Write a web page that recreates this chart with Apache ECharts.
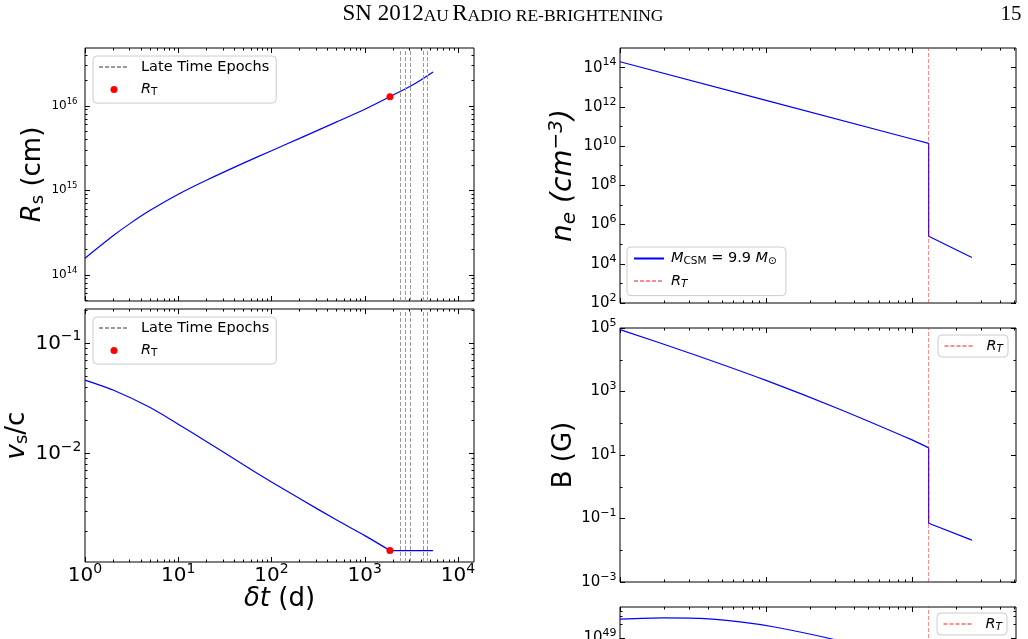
<!DOCTYPE html>
<html><head><meta charset="utf-8">
<script src="https://cdn.jsdelivr.net/npm/echarts@6/dist/echarts.min.js"></script>
<style>html,body{margin:0;padding:0;background:#fff}#c{width:1028px;height:639px}</style>
</head><body><div id="c"></div>
<script>
// ---------------- data ----------------
const tDays   = [1, 2, 3, 5, 10, 20, 50, 100, 200, 500, 1000, 1860, 3000, 4000, 5400];
const rsCm    = [1.574e14, 2.897e14, 4.009e14, 5.794e14, 8.974e14, 1.315e15, 2.099e15, 2.944e15, 4.121e15, 6.457e15, 9.12e15, 1.285e16, 1.685e16, 2.03e16, 2.515e16];
const tVs     = [1, 2, 5, 10, 20, 50, 100, 200, 500, 1000, 1860];
const vsOverC = [0.04645, 0.03776, 0.02618, 0.01849, 0.01291, 0.00794, 0.005534, 0.003917, 0.0025, 0.001807, 0.001324];
const tVsLate = [1860, 5400];
const vsLate  = [0.001324, 0.001324];
const lateEpochs = [2420, 2740, 3040, 4230, 4670];
const tTrans = 1860, rsTrans = 1.285e16, vsTrans = 0.001324;

const rNe      = [1e14, 1e15, 1e16, 1.3e16, 1.3e16, 2.57e16];
const neCm3    = [2.0e14, 2.14e12, 2.29e10, 1.365e10, 2.51e5, 2.09e4];
const rB       = [1e14, 3.16e14, 1e15, 3.16e15, 1e16, 1.3e16];
const bGauss   = [8.91e4, 1.496e4, 2.239e3, 281.8, 29.85, 16.75];
const rBLate   = [1.3e16, 1.3e16, 2.57e16];
const bLate    = [16.75, 0.0708, 0.0209];
const rEnergy  = [1e14, 1.98e14, 3.53e14, 6.64e14, 1.12e15, 2.74e15, 3.98e15];
const energy   = [2.63e49, 2.82e49, 2.75e49, 2.29e49, 1.78e49, 9.77e48, 7.08e48];
const rTransCm = 1.3e16;

// ---------------- helpers ----------------
const FONT = 'DejaVu Sans';
const zip = (a, b) => a.map((v, i) => [v, b[i]]);
const p10 = e => Number('1e' + e);
function majors(e0, e1, step) { const o = []; for (let e = e0; e <= e1; e += (step || 1)) o.push(p10(e)); return o; }
function minors(minV, maxV) {
  const o = []; const a = Math.floor(Math.log10(minV)), b = Math.ceil(Math.log10(maxV));
  for (let e = a; e <= b; e++) for (let k = 2; k <= 9; k++) { const v = k * p10(e); if (v > minV && v < maxV) o.push(v); }
  return o;
}
const supStr = e => (e < 0 ? '\u2212' : '') + Math.abs(e);
function supFmt(v) { const e = Math.round(Math.log10(v)); return '{b|10}{s|' + supStr(e) + '}'; }
function lab(base, sup, pad, margin) {
  return { show: true, margin, color: '#000', fontFamily: FONT, formatter: supFmt,
    rich: { b: { fontSize: base, fontFamily: FONT, color: '#000' },
            s: { fontSize: sup, fontFamily: FONT, color: '#000', padding: [0, 0, pad, 0] } } };
}

const xAxes = [], yAxes = [];
function addAxes(dim, g, min, max, majorVals, minorVals, labelCfg, nameCfg) {
  const arr = dim === 'x' ? xAxes : yAxes;
  const sides = dim === 'x' ? ['bottom', 'top'] : ['left', 'right'];
  sides.forEach((pos, si) => {
    [[majorVals, 5], [minorVals, 2.5]].forEach(([vals, len], mi) => {
      const first = si === 0 && mi === 0;
      const ax = {
        gridIndex: g, type: 'log', logBase: 10, min, max, position: pos,
        axisLine: { show: false },
        axisTick: { show: true, inside: true, length: len, customValues: vals, lineStyle: { color: '#000', width: 1 } },
        axisLabel: (first && labelCfg) ? Object.assign({ customValues: majorVals }, labelCfg) : { show: false },
        splitLine: { show: false }, minorTick: { show: false }, minorSplitLine: { show: false },
        axisPointer: { show: false }
      };
      if (first && nameCfg) Object.assign(ax, nameCfg);
      arr.push(ax);
    });
  });
}

// grid geometry
const grids = [
  { left: 85, top: 48, width: 389, height: 253 },
  { left: 85, top: 309, width: 389, height: 253 },
  { left: 620, top: 48, width: 396, height: 255 },
  { left: 620, top: 328, width: 396, height: 254 },
  { left: 620, top: 607, width: 396, height: 211 }
].map(g => Object.assign({ show: true, borderColor: '#000', borderWidth: 1, backgroundColor: 'transparent',
  containLabel: false, outerBoundsMode: 'none' }, g));

const tMin = 1, tMax = Math.pow(10, 4.171);
const rMin = 1e14, rMax = Math.pow(10, 16.712);
const xMajT = majors(0, 4), xMinT = minors(tMin, tMax);
const xMajR = majors(14, 16), xMinR = minors(rMin, rMax);

// grid 0: Rs
addAxes('x', 0, tMin, tMax, xMajT, xMinT, null);
const y0min = Math.pow(10, 13.69), y0max = Math.pow(10, 16.685);
addAxes('y', 0, y0min, y0max, majors(14, 16), minors(y0min, y0max), lab(12, 8.5, 9, 7.5), {
  name: '{i|R}{sub|s} (cm)', nameLocation: 'middle', nameRotate: 90, nameGap: 35,
  nameTextStyle: { fontSize: 26, fontFamily: FONT, color: '#000',
    rich: { i: { fontStyle: 'italic', fontSize: 26, fontFamily: FONT, color: '#000' },
            sub: { fontSize: 18, fontFamily: FONT, color: '#000', padding: [10, 0, 0, 0] } } }
});
// grid 1: vs/c
addAxes('x', 1, tMin, tMax, xMajT, xMinT, lab(20, 14, 13, 0), {
  name: '{i|\u03b4t} (d)', nameLocation: 'middle', nameGap: 22,
  nameTextStyle: { fontSize: 26, fontFamily: FONT, color: '#000',
    rich: { i: { fontStyle: 'italic', fontSize: 26, fontFamily: FONT, color: '#000' } } }
});
const y1min = Math.pow(10, -2.982), y1max = Math.pow(10, -0.689);
addAxes('y', 1, y1min, y1max, majors(-2, -1), minors(y1min, y1max), lab(20, 14, 13, 3.5), {
  name: '{i|v}{sub|s}/c', nameLocation: 'middle', nameRotate: 90, nameGap: 43,
  nameTextStyle: { fontSize: 26, fontFamily: FONT, color: '#000',
    rich: { i: { fontStyle: 'italic', fontSize: 26, fontFamily: FONT, color: '#000' },
            sub: { fontSize: 18, fontFamily: FONT, color: '#000', padding: [10, 0, 0, 0] } } }
});
// grid 2: ne
addAxes('x', 2, rMin, rMax, xMajR, xMinR, null);
addAxes('y', 2, 1e2, 1e15, majors(2, 14, 2), majors(3, 13, 2), lab(15, 11, 10, 3.5), {
  name: '{i|n}{sub|e} {i|(cm}{sup|\u22123}{i|)}', nameLocation: 'middle', nameRotate: 90, nameGap: 38,
  nameTextStyle: { fontSize: 28, fontFamily: FONT, color: '#000',
    rich: { i: { fontStyle: 'italic', fontSize: 28, fontFamily: FONT, color: '#000' },
            sub: { fontStyle: 'italic', fontSize: 20, fontFamily: FONT, color: '#000', padding: [11, 0, 0, 0] },
            sup: { fontStyle: 'italic', fontSize: 20, fontFamily: FONT, color: '#000', padding: [0, 0, 14, 0] } } }
});
// grid 3: B
addAxes('x', 3, rMin, rMax, xMajR, xMinR, null);
addAxes('y', 3, 1e-3, 1e5, majors(-3, 5, 2), majors(-2, 4, 2), lab(15, 11, 10, 3.5), {
  name: 'B (G)', nameLocation: 'middle', nameRotate: 90, nameGap: 42,
  nameTextStyle: { fontSize: 26, fontFamily: FONT, color: '#000' }
});
// grid 4: energy (cut off by the page edge)
addAxes('x', 4, rMin, rMax, xMajR, xMinR, null);
const y4min = 1e45, y4max = Math.pow(10, 49.69);
addAxes('y', 4, y4min, y4max, majors(45, 49), minors(y4min, y4max), lab(15, 11, 10, 3.5), null);

const blue = { color: '#0000ff', width: 1.2 };
const grayDash = { color: '#9a9a9a', width: 1, type: [4, 2] };
const redDash = { color: 'rgba(255,0,0,0.45)', width: 1, type: [4, 2] };
function vLines(vals, style) {
  return { symbol: ['none', 'none'], silent: true, animation: false, label: { show: false },
    lineStyle: style, emphasis: { disabled: true }, data: vals.map(v => ({ xAxis: v })) };
}
function blueLine(name, ix, data, smooth) {
  return { type: 'line', name, xAxisIndex: ix, yAxisIndex: ix, data, symbol: 'none', showSymbol: false,
    lineStyle: blue, itemStyle: { color: '#0000ff' }, smooth: smooth || false, z: 3, silent: true };
}
const series = [];
series.push(blueLine('Rs', 0, zip(tDays, rsCm), 0.25));
series.push(blueLine('vs', 4, zip(tVs, vsOverC), 0.25));
series.push(blueLine('vs2', 4, zip(tVsLate, vsLate), false));
[0, 1].forEach(g => {
  const ix = 4 * g;
  series.push({ type: 'line', name: 'Late Time Epochs', xAxisIndex: ix, yAxisIndex: ix, data: [],
    symbol: 'none', lineStyle: grayDash, itemStyle: { color: '#9a9a9a' }, markLine: vLines(lateEpochs, grayDash) });
  series.push({ type: 'scatter', name: 'RT_dot', xAxisIndex: ix, yAxisIndex: ix, silent: true,
    data: [[tTrans, g === 0 ? rsTrans : vsTrans]], symbolSize: 7, itemStyle: { color: '#ff0000', opacity: 1 }, z: 5 });
});
series.push(blueLine('Mcsm', 8, zip(rNe, neCm3), false));
series.push(blueLine('B', 12, zip(rB, bGauss), 0.25));
series.push(blueLine('B2', 12, zip(rBLate, bLate), false));
series.push(blueLine('E', 16, zip(rEnergy, energy), 0.25));
[2, 3, 4].forEach(g => {
  const ix = 4 * g;
  series.push({ type: 'line', name: 'RT_line', xAxisIndex: ix, yAxisIndex: ix, data: [],
    symbol: 'none', lineStyle: redDash, itemStyle: { color: '#ff8080' }, markLine: vLines([rTransCm], redDash) });
});

const legendRich = {
  i: { fontStyle: 'italic', fontSize: 14.5, fontFamily: FONT, color: '#000' },
  s: { fontSize: 10.5, fontFamily: FONT, color: '#000', padding: [6, 0, 0, 0] },
  si: { fontStyle: 'italic', fontSize: 10.5, fontFamily: FONT, color: '#000', padding: [6, 0, 0, 0] },
  s2: { fontSize: 10.5, fontFamily: FONT, color: '#000', padding: [6, 0, 0, 0] }
};
const legendNames = {
  'Late Time Epochs': 'Late Time Epochs',
  'RT_dot': '{i|R}{s|T}',
  'RT_line': '{i|R}{si|T}',
  'Mcsm': '{i|M}{s2|CSM} = 9.9 {i|M}{s2|\u2299}'
};
function legend(left, top, names, pad, txtPad, fs) {
  return {
    left, top, orient: 'vertical', selectedMode: false, itemWidth: 30, itemHeight: 7, itemGap: 5.6,
    padding: pad, backgroundColor: 'rgba(255,255,255,0.85)', borderColor: '#cccccc', borderWidth: 1, borderRadius: 4,
    data: names.map(n => (n === 'RT_dot' ? { name: n, icon: 'circle', itemStyle: { color: '#ff0000', opacity: 1 } }
                                          : { name: n, itemStyle: { opacity: 0 } })),
    formatter: n => legendNames[n],
    textStyle: { fontSize: fs, fontFamily: FONT, color: '#000', lineHeight: 17, padding: [0, 0, 0, txtPad],
      rich: legendRich }
  };
}

const option = {
  animation: false,
  backgroundColor: '#ffffff',
  grid: grids,
  xAxis: xAxes,
  yAxis: yAxes,
  series,
  legend: [
    legend(93, 56, ['Late Time Epochs', 'RT_dot'], [2.5, 7, 5, 5], 7, 14.5),
    legend(93, 317, ['Late Time Epochs', 'RT_dot'], [2.5, 7, 5, 5], 7, 14.5),
    legend(627, 247, ['Mcsm', 'RT_line'], [3, 9, 6, 6], 2, 14.5),
    legend(938, 335, ['RT_line'], [2.5, 5, 2.5, 5.5], 7, 14),
    legend(937, 613, ['RT_line'], [2.5, 5, 2.5, 5.5], 7, 14)
  ],
  graphic: [
    { type: 'text', x: 503, y: 14, style: {
        text: '{a|SN 2012}{b|AU} {a|R}{b|ADIO RE-BRIGHTENING}', align: 'center', verticalAlign: 'middle', fill: '#000',
        rich: { a: { fontSize: 23, fontFamily: 'Liberation Serif', lineHeight: 23, verticalAlign: 'bottom' },
                b: { fontSize: 17.5, fontFamily: 'Liberation Serif', lineHeight: 17.5, verticalAlign: 'bottom' } } } },
    { type: 'text', x: 1011, y: 14, style: { text: '15', align: 'center', verticalAlign: 'middle', fill: '#000',
        font: '21px "Liberation Serif"' } }
  ]
};
const chart = echarts.init(document.getElementById('c'), null, { renderer: 'canvas' });
chart.setOption(option);
</script></body></html>
